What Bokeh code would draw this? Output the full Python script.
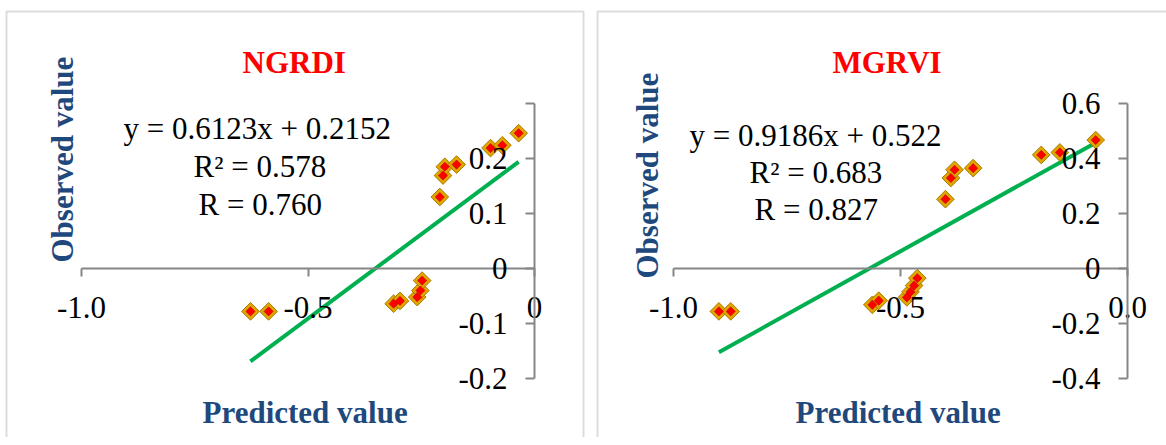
import numpy as np
from bokeh.plotting import figure
from bokeh.models import LinearAxis, FixedTicker, Label, BoxAnnotation, Range1d
from bokeh.layouts import row
from bokeh.embed import file_html
from bokeh.resources import INLINE

# ---------------- data ----------------
ngrdi_pred = [-0.627, -0.587, -0.311, -0.297, -0.259, -0.252, -0.248,
              -0.209, -0.202, -0.198, -0.172, -0.097, -0.071, -0.035]
ngrdi_obs = [-0.078, -0.078, -0.064, -0.059, -0.052, -0.040, -0.022,
             0.130, 0.169, 0.185, 0.189, 0.219, 0.224, 0.246]
ngrdi_slope, ngrdi_intercept = 0.6123, 0.2152
ngrdi_text = ["y = 0.6123x + 0.2152", "R² = 0.578", "R = 0.760"]
ngrdi_xticks = [-1.0, -0.5, 0.0]
ngrdi_xlabels = ["-1.0", "-0.5", "0"]
ngrdi_yticks = [-0.2, -0.1, 0.0, 0.1, 0.2, 0.3]
ngrdi_ylabels = ["-0.2", "-0.1", "0", "0.1", "0.2", ""]

mgrvi_pred = [-0.900, -0.874, -0.562, -0.548, -0.486, -0.478, -0.470, -0.463,
              -0.401, -0.389, -0.381, -0.340, -0.190, -0.149, -0.070]
mgrvi_obs = [-0.156, -0.156, -0.132, -0.117, -0.105, -0.085, -0.062, -0.035,
             0.252, 0.329, 0.359, 0.365, 0.413, 0.422, 0.467]
mgrvi_slope, mgrvi_intercept = 0.9186, 0.522
mgrvi_text = ["y = 0.9186x + 0.522", "R² = 0.683", "R = 0.827"]
mgrvi_xticks = [-1.0, -0.5, 0.0]
mgrvi_xlabels = ["-1.0", "-0.5", "0.0"]
mgrvi_yticks = [-0.4, -0.2, 0.0, 0.2, 0.4, 0.6]
mgrvi_ylabels = ["-0.4", "-0.2", "0", "0.2", "0.4", "0.6"]

SERIF = "Liberation Serif"
AXIS_GRAY = "#868686"
BLUE = "#1F497D"
H = 437


def panel(W, title, pred, obs, slope, intercept, eq_lines,
          xticks, xlabels, yticks, ylabels, geo):
    # geo: pixel geometry of the axes inside the canvas
    (xv0, px0, xv1, px1) = geo["x"]
    (yv_top, py_top, yv_bot, py_bot) = geo["y"]
    sx = (px1 - px0) / (xv1 - xv0)
    sy = (py_bot - py_top) / (yv_top - yv_bot)
    x_start = xv0 - px0 / sx
    x_end = xv0 + (W - px0) / sx
    y_end = yv_top + py_top / sy
    y_start = yv_top - (H - py_top) / sy

    def px2x(px):
        return x_start + px / sx

    def py2y(py):
        return y_end - py / sy

    p = figure(width=W, height=H, output_backend="svg", toolbar_location=None,
               x_axis_type=None, y_axis_type=None,
               x_range=Range1d(x_start, x_end), y_range=Range1d(y_start, y_end),
               min_border=0, min_border_left=0, min_border_right=0,
               min_border_top=0, min_border_bottom=0)
    p.outline_line_color = None
    p.background_fill_color = "white"
    p.border_fill_color = "white"

    # panel frame (chart-area border)
    bl, br, bt = geo["border"]
    p.add_layout(BoxAnnotation(left=px2x(bl), right=px2x(br) if br is not None else x_end + 1,
                               top=py2y(bt), bottom=y_start - 1,
                               fill_alpha=0, line_color="#8C8C8C", line_width=2))

    common = dict(axis_line_color=AXIS_GRAY, axis_line_width=2,
                  major_tick_line_color=AXIS_GRAY, major_tick_line_width=2,
                  minor_tick_line_color=None, major_tick_in=0,
                  major_label_text_font=SERIF, major_label_text_font_size="31px",
                  major_label_text_color="black")
    xaxis = LinearAxis(fixed_location=0, bounds=(min(xticks), max(xticks)),
                       ticker=FixedTicker(ticks=xticks),
                       major_label_overrides=dict(zip(xticks, xlabels)),
                       major_tick_out=8, major_label_standoff=20, **common)
    p.add_layout(xaxis, "below")
    yaxis = LinearAxis(fixed_location=0, bounds=(min(yticks), max(yticks)),
                       ticker=FixedTicker(ticks=yticks),
                       major_label_overrides=dict(zip(yticks, ylabels)),
                       major_tick_out=9, major_label_standoff=18, **common)
    p.add_layout(yaxis, "left")

    # trendline from the displayed regression equation
    fx = np.array([min(pred), max(pred)])
    fy = slope * fx + intercept
    p.line(fx, fy, line_color="#00B050", line_width=4)

    # diamond markers
    p.scatter(pred, obs, marker="square", angle=np.pi / 4, size=12.5,
              fill_color="#E2A600", line_color="#A87A00", line_width=1)
    p.scatter(pred, obs, marker="square", angle=np.pi / 4, size=6.5,
              fill_color="#FF0000", line_color="#B00000", line_width=0.5)

    # title
    tx, ty = geo["title"]
    p.add_layout(Label(x=px2x(tx), y=py2y(ty), text=title, text_font=SERIF,
                       text_font_size="31px", text_font_style="bold",
                       text_color="#FF0000", text_align="left",
                       text_baseline="alphabetic"))
    # equation block
    for (lx, ly), t in zip(geo["eq"], eq_lines):
        p.add_layout(Label(x=px2x(lx), y=py2y(ly), text=t, text_font=SERIF,
                           text_font_size="31px", text_color="black",
                           text_align="left", text_baseline="alphabetic"))
    # axis titles
    ax, ay = geo["xtitle"]
    p.add_layout(Label(x=px2x(ax), y=py2y(ay), text="Predicted value",
                       text_font=SERIF, text_font_size="31px",
                       text_font_style="bold", text_color=BLUE,
                       text_align="left", text_baseline="alphabetic"))
    vx, vy = geo["ytitle"]
    p.add_layout(Label(x=px2x(vx), y=py2y(vy), text="Observed value",
                       text_font=SERIF, text_font_size="31px",
                       text_font_style="bold", text_color=BLUE,
                       angle=np.pi / 2, text_align="left",
                       text_baseline="alphabetic"))
    return p


geo_left = dict(x=(-1.0, 81, 0.0, 534), y=(0.3, 103, -0.2, 378),
                border=(6, 583, 11), title=(242, 62),
                eq=[(123, 128), (193, 166), (198, 204)],
                xtitle=(202, 412), ytitle=(62, 262))
geo_right = dict(x=(-1.0, 83, 0.0, 537), y=(0.6, 103, -0.4, 378),
                 border=(7, None, 11), title=(242, 62),
                 eq=[(99, 135), (159, 172), (164, 209)],
                 xtitle=(205, 412), ytitle=(57, 278))

p1 = panel(590, "NGRDI", ngrdi_pred, ngrdi_obs, ngrdi_slope, ngrdi_intercept,
           ngrdi_text, ngrdi_xticks, ngrdi_xlabels, ngrdi_yticks, ngrdi_ylabels,
           geo_left)
p2 = panel(576, "MGRVI", mgrvi_pred, mgrvi_obs, mgrvi_slope, mgrvi_intercept,
           mgrvi_text, mgrvi_xticks, mgrvi_xlabels, mgrvi_yticks, mgrvi_ylabels,
           geo_right)

layout = row(p1, p2)
open("out.html", "w").write(file_html(layout, INLINE))
